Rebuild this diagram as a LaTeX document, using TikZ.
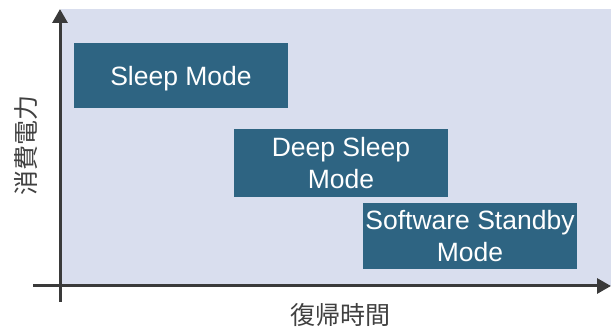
\documentclass[tikz,border=0pt]{standalone}
\usepackage{fontspec}
\setmainfont{Liberation Sans}
\newfontfamily\jpfont{Noto Sans CJK JP}
\usetikzlibrary{arrows.meta}
\definecolor{panel}{HTML}{D9DEEE}
\definecolor{modefill}{HTML}{2E6482}
\definecolor{axisgray}{HTML}{3A3A3A}
\definecolor{labelgray}{HTML}{404040}
\begin{document}
\begin{tikzpicture}[x=1pt,y=-1pt,
  modebox/.style={fill=modefill,text=white,inner sep=0pt,align=center,
    font=\fontsize{26.5}{31.5}\selectfont},
  axisline/.style={draw=axisgray,line width=3pt,-{Triangle[length=14pt,width=15pt]}},
  axislabel/.style={text=labelgray,font=\jpfont\fontsize{25}{28}\selectfont,inner sep=0pt}]
\useasboundingbox (0,0) rectangle (611,328);
% plotting area
\fill[panel] (61,9) rectangle (611,286);
% operating modes
\node[modebox,text depth=0pt,minimum width=214pt,minimum height=65pt] (sleep) at (181,75.5) {Sleep Mode};
\node[modebox,minimum width=214pt,minimum height=68pt] (deep) at (341,163) {Deep Sleep\\Mode};
\node[modebox,minimum width=214pt,minimum height=66pt] (sw) at (470,236) {Software Standby\\Mode};
% axes
\coordinate (ytop) at (60,9);
\coordinate (ybot) at (60,302);
\coordinate (xleft) at (33,286);
\coordinate (xright) at (611,286);
\draw[axisline] (ybot) -- (ytop);
\draw[axisline] (xleft) -- (xright);
% axis labels
\node[axislabel,rotate=90] (ylab) at (26,146) {消費電力};
\node[axislabel] (xlab) at (340,315) {復帰時間};
\end{tikzpicture}
\end{document}
